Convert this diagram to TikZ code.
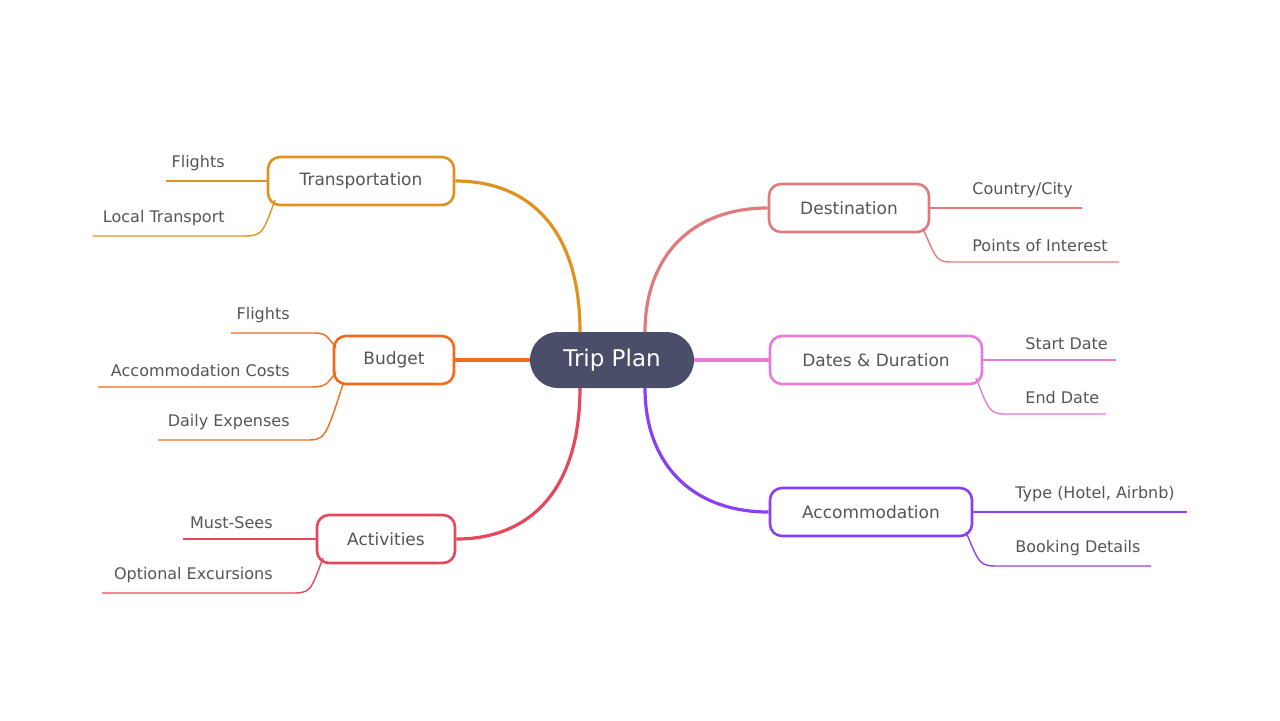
\documentclass[tikz,border=0pt]{standalone}
\usepackage{fontspec}
\setmainfont{DejaVu Sans}
\usetikzlibrary{positioning}
\definecolor{centre}{HTML}{4A4E69}
\definecolor{txt}{HTML}{555555}
\definecolor{cTrans}{HTML}{E0921F}
\definecolor{cBudget}{HTML}{F26B1D}
\definecolor{cAct}{HTML}{E5485A}
\definecolor{cDest}{HTML}{E07B7B}
\definecolor{cDates}{HTML}{E87BD8}
\definecolor{cAcc}{HTML}{8A3FF0}
\tikzset{
    topic/.style={
        rectangle,
        rounded corners=6pt,
        draw=#1, line width=1.3pt,
        fill=white,
        minimum height=24pt,
        text=txt,
        font={\fontsize{8.5pt}{10}\selectfont}
    },
    branch/.style={draw=#1, line width=1.6pt},
    twig/.style={draw=#1, line width=0.7pt},
    leaf/.style={text=txt, inner sep=0pt, font={\fontsize{8pt}{10}\selectfont}},
}
\begin{document}
\begin{tikzpicture}[x=0.5pt, y=-0.5pt]
\useasboundingbox (0,0) rectangle (1280,720);

\node [rectangle, rounded corners=14pt, fill=centre, text=white,
  minimum width=82pt, minimum height=28pt,
  font={\fontsize{11.5pt}{13}\selectfont}] (trip) at (612,360) {Trip Plan};

% main topics
\node [topic=cTrans, minimum width=93pt] (trans) at (361,181) {Transportation};
\node [topic=cBudget, minimum width=60pt] (budget) at (394,360) {Budget};
\node [topic=cAct, minimum width=69pt] (act) at (386,539) {Activities};
\node [topic=cDest, minimum width=80pt] (dest) at (849,208) {Destination};
\node [topic=cDates, minimum width=106pt] (dates) at (876,360) {Dates \& Duration};
\node [topic=cAcc, minimum width=101pt] (acc) at (871,512) {Accommodation};

% branches
\begin{scope}[on background layer/.try]
\draw [branch=cTrans] (580,332) .. controls (580,230) and (530,181) .. (trans.east);
\draw [branch=cBudget] (trip.west) -- (budget.east);
\draw [branch=cAct] (580,388) .. controls (580,490) and (530,539) .. (act.east);
\draw [branch=cDest] (645,332) .. controls (645,258) and (690,208) .. (dest.west);
\draw [branch=cDates] (trip.east) -- (dates.west);
\draw [branch=cAcc] (645,388) .. controls (645,462) and (690,512) .. (acc.west);
\end{scope}

% leaves, left side
\coordinate (t1) at (166,181);
\coordinate (t2) at (93,236);
\draw [twig=cTrans] (trans.west) -- (t1);
\draw [twig=cTrans] (275,200) .. controls (262,236) .. (240,236) -- (t2);
\node [leaf, anchor=south east] (t1l) at (225,171) {Flights};
\node [leaf, anchor=south east] (t2l) at (225,226) {Local Transport};

\coordinate (b1) at (231,333);
\coordinate (b2) at (98,387);
\coordinate (b3) at (158,440);
\draw [twig=cBudget] (336,348) .. controls (325,333) .. (310,333) -- (b1);
\draw [twig=cBudget] (336,372) .. controls (325,387) .. (305,387) -- (b2);
\draw [twig=cBudget] (343,384) .. controls (325,440) .. (305,440) -- (b3);
\node [leaf, anchor=south east] (b1l) at (290,323) {Flights};
\node [leaf, anchor=south east] (b2l) at (290,377) {Accommodation Costs};
\node [leaf, anchor=south east] (b3l) at (290,430) {Daily Expenses};

\coordinate (a1) at (183,539);
\coordinate (a2) at (102,593);
\draw [twig=cAct] (act.west) -- (a1);
\draw [twig=cAct] (323,558) .. controls (310,593) .. (290,593) -- (a2);
\node [leaf, anchor=south east] (a1l) at (273,529) {Must-Sees};
\node [leaf, anchor=south east] (a2l) at (273,583) {Optional Excursions};

% leaves, right side
\coordinate (d1) at (1082,208);
\coordinate (d2) at (1119,262);
\draw [twig=cDest] (dest.east) -- (d1);
\draw [twig=cDest] (923,228) .. controls (937,262) .. (955,262) -- (d2);
\node [leaf, anchor=south west] (d1l) at (972,198) {Country/City};
\node [leaf, anchor=south west] (d2l) at (972,252) {Points of Interest};

\coordinate (s1) at (1116,360);
\coordinate (s2) at (1106,414);
\draw [twig=cDates] (dates.east) -- (s1);
\draw [twig=cDates] (976,378) .. controls (990,414) .. (1010,414) -- (s2);
\node [leaf, anchor=south west] (s1l) at (1025,350) {Start Date};
\node [leaf, anchor=south west] (s2l) at (1025,404) {End Date};

\coordinate (c1) at (1187,512);
\coordinate (c2) at (1151,566);
\draw [twig=cAcc] (acc.east) -- (c1);
\draw [twig=cAcc] (966,532) .. controls (980,566) .. (1000,566) -- (c2);
\node [leaf, anchor=south west] (c1l) at (1015,502) {Type (Hotel, Airbnb)};
\node [leaf, anchor=south west] (c2l) at (1015,556) {Booking Details};
\end{tikzpicture}
\end{document}
